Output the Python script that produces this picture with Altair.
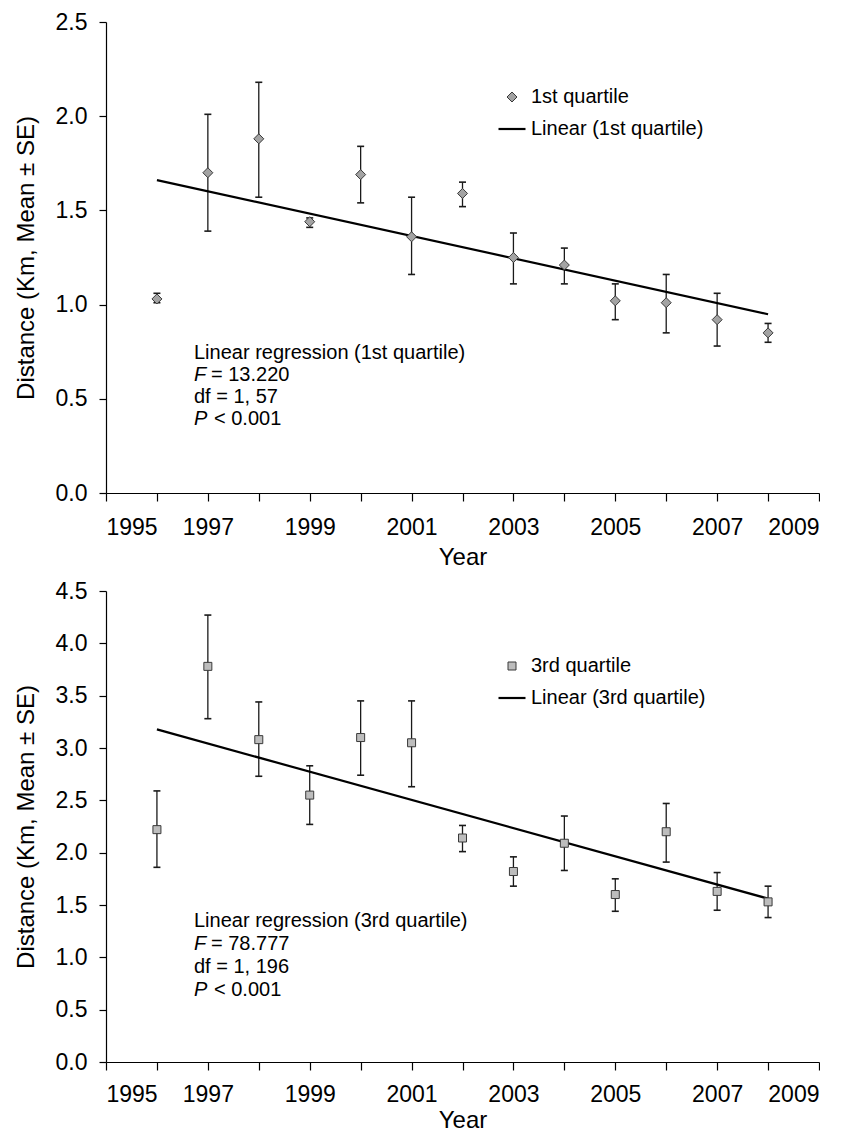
import altair as alt
import pandas as pd

FONT = "Liberation Sans, Arial, sans-serif"

years = list(range(1996, 2009))

# 1st quartile
q1_mean = [1.03, 1.70, 1.88, 1.44, 1.69, 1.36, 1.59, 1.25, 1.21, 1.02, 1.01, 0.92, 0.85]
q1_lo = [1.01, 1.39, 1.57, 1.41, 1.54, 1.16, 1.52, 1.11, 1.11, 0.92, 0.85, 0.78, 0.80]
q1_hi = [1.06, 2.01, 2.18, 1.46, 1.84, 1.57, 1.65, 1.38, 1.30, 1.11, 1.16, 1.06, 0.90]

# 3rd quartile
q3_mean = [2.22, 3.78, 3.08, 2.55, 3.10, 3.05, 2.14, 1.82, 2.09, 1.60, 2.20, 1.63, 1.53]
q3_lo = [1.86, 3.28, 2.73, 2.27, 2.74, 2.63, 2.01, 1.68, 1.83, 1.44, 1.91, 1.45, 1.38]
q3_hi = [2.59, 4.27, 3.44, 2.83, 3.45, 3.45, 2.26, 1.96, 2.35, 1.75, 2.47, 1.81, 1.68]

# linear regression fits (end points)
fit_years = [1996, 2008]
q1_fit = [1.661, 0.949]
q3_fit = [3.178, 1.561]

x_ticks = list(range(1995, 2010))
q1_yticks = [0.0, 0.5, 1.0, 1.5, 2.0, 2.5]
q3_yticks = [0.0, 0.5, 1.0, 1.5, 2.0, 2.5, 3.0, 3.5, 4.0, 4.5]

q1_stats = [("", "Linear regression (1st quartile)"), ("F", "= 13.220"),
            ("", "df = 1, 57"), ("P", "< 0.001")]
q3_stats = [("", "Linear regression (3rd quartile)"), ("F", "= 78.777"),
            ("", "df = 1, 196"), ("P", "< 0.001")]

W, H = 713, 471


def panel(mean, lo, hi, fit, yticks, shape, fill, pt_label, ln_label, stats,
          stat_y0, stat_dy, lab_pad, title_pad):
    df = pd.DataFrame({"year": years, "mean": mean, "lo": lo, "hi": hi,
                       "series": pt_label})
    fdf = pd.DataFrame({"year": fit_years, "fit": fit})
    ymax = yticks[-1]
    xenc = alt.X("year:Q", scale=alt.Scale(domain=[1995, 2009], nice=False, zero=False),
                 axis=alt.Axis(values=x_ticks, format="d", title="Year",
                               labelExpr="datum.value % 2 == 1 ? datum.label : ''",
                               tickSize=8, labelPadding=lab_pad, titlePadding=title_pad))
    yscale = alt.Scale(domain=[0, ymax], nice=False)
    yaxis = alt.Axis(values=yticks, format=".1f", title="Distance (Km, Mean \u00b1 SE)",
                     tickSize=7, labelPadding=12, titlePadding=17)

    rules = alt.Chart(df).mark_rule(color="#1a1a1a", strokeWidth=1.3).encode(
        x=xenc, y=alt.Y("lo:Q", scale=yscale, axis=yaxis), y2="hi:Q")
    cap_lo = alt.Chart(df).mark_tick(color="#1a1a1a", orient="horizontal", size=7,
                                     thickness=1.6, opacity=1).encode(
        x="year:Q", y=alt.Y("lo:Q", scale=yscale))
    cap_hi = alt.Chart(df).mark_tick(color="#1a1a1a", orient="horizontal", size=7,
                                     thickness=1.6, opacity=1).encode(
        x="year:Q", y=alt.Y("hi:Q", scale=yscale))
    line = alt.Chart(fdf).mark_line(color="black", strokeWidth=2.2).encode(
        x="year:Q", y=alt.Y("fit:Q", scale=yscale))

    dom = [pt_label, ln_label]
    leg = alt.Legend(orient="none", legendX=391, legendY=65, title=None,
                     labelFontSize=20, labelFont=FONT, labelColor="black",
                     labelLimit=0, rowPadding=7, labelOffset=4, symbolOpacity=1)
    pts = alt.Chart(df).mark_point(filled=True, opacity=1).encode(
        x="year:Q", y=alt.Y("mean:Q", scale=yscale),
        fill=alt.Fill("series:N", scale=alt.Scale(domain=dom, range=[fill, "black"]), legend=leg),
        stroke=alt.Stroke("series:N", scale=alt.Scale(domain=dom, range=["#3a3a3a", "black"]), legend=leg),
        shape=alt.Shape("series:N", scale=alt.Scale(domain=dom, range=[shape, "stroke"]), legend=leg),
        size=alt.Size("series:N", scale=alt.Scale(type="ordinal", domain=dom,
                                                  range=[100 if shape == "diamond" else 64, 729]),
                      legend=leg),
        strokeWidth=alt.StrokeWidth("series:N", scale=alt.Scale(type="ordinal", domain=dom,
                                                                range=[1, 2.2]), legend=leg),
    )

    texts = []
    for i, (it, rest) in enumerate(stats):
        yy = stat_y0 + stat_dy * i
        base = alt.Chart(pd.DataFrame({"t": [rest]}))
        if it:
            texts.append(alt.Chart(pd.DataFrame({"t": [it]})).mark_text(
                align="left", baseline="middle", fontSize=20, font=FONT,
                fontStyle="italic", color="black").encode(
                text="t:N", x=alt.value(88), y=alt.value(yy)))
            xoff = 105 if it == "F" else 108
        else:
            xoff = 88
        texts.append(base.mark_text(align="left", baseline="middle", fontSize=20,
                                    font=FONT, color="black").encode(
            text="t:N", x=alt.value(xoff), y=alt.value(yy)))

    return alt.layer(rules, cap_lo, cap_hi, line, pts, *texts).properties(width=W, height=H)


top = panel(q1_mean, q1_lo, q1_hi, q1_fit, q1_yticks, "diamond", "#a3a3a3",
            "1st quartile", "Linear (1st quartile)", q1_stats, 331, 22, 15, 6)
bottom = panel(q3_mean, q3_lo, q3_hi, q3_fit, q3_yticks, "square", "#bdbdbd",
               "3rd quartile", "Linear (3rd quartile)", q3_stats, 330, 23, 13, 2)

chart = alt.vconcat(top, bottom, spacing=11).resolve_scale(
    fill="independent", stroke="independent", shape="independent",
    size="independent", strokeWidth="independent", y="independent"
).resolve_legend(
    fill="independent", stroke="independent", shape="independent",
    size="independent", strokeWidth="independent"
).properties(
    padding={"left": 6, "top": 3, "right": 0, "bottom": 0}
).configure_view(stroke=None).configure_axis(
    grid=False, domainColor="black", tickColor="black", labelColor="black",
    titleColor="black", labelFont=FONT, titleFont=FONT, labelFontSize=23,
    titleFontSize=24, titleFontWeight="normal", domainWidth=1.2, tickWidth=1.2
)

chart.save("out.html", embed_options={"renderer": "svg", "actions": False})
